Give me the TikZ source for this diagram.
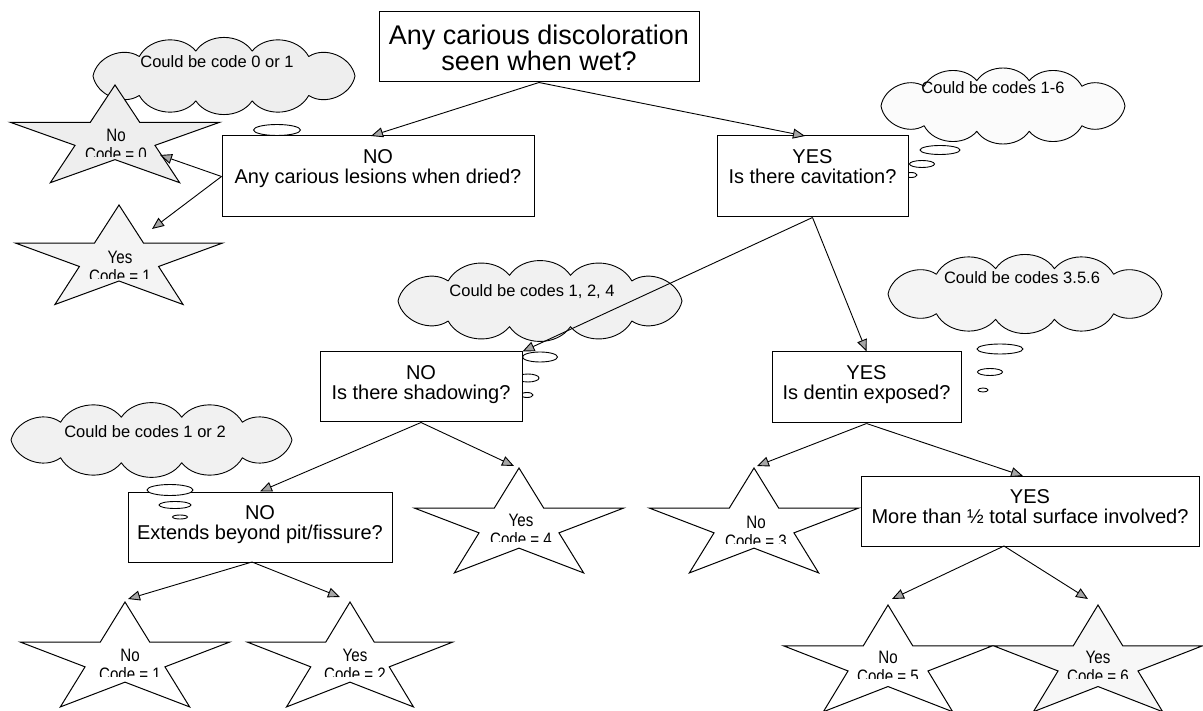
\documentclass[tikz,border=0pt]{standalone}
\usepackage{fontspec}
\setmainfont{Liberation Sans}
\newfontfamily\starfont[FakeStretch=0.84]{Liberation Sans}
\usetikzlibrary{shapes.geometric,arrows.meta}

\tikzset{
  qbox/.style={draw=black, line width=1pt, fill=white, rectangle, inner sep=0pt},
  qtext/.style={align=center, font=\fontsize{20}{20}\selectfont, inner sep=0pt, anchor=north},
  link/.style={draw=black, line width=0.9pt, -{Triangle[length=12pt,width=10pt,fill=gray!70]}},
  cloudline/.style={draw=black, line width=0.9pt, line join=round},
  ctext/.style={font=\fontsize{16.5}{18}\selectfont, inner sep=0pt},
  bubble/.style={ellipse, draw=black, line width=0.9pt, fill=white, inner sep=0pt},
  starline/.style={draw=black, line width=1pt, line join=miter},
  stext/.style={font=\starfont\fontsize{18}{18}\selectfont, inner sep=0pt, anchor=base},
}

% five-pointed star, stretched: centre (#1,#2), radii #3 (x) and #4 (y), fill #5
\newcommand\tstar[5]{%
  \draw[starline, fill=#5] plot[samples at={0,1,2,3,4,5,6,7,8,9}]
    ({#1+ifthenelse(mod(\x,2)==0,1,0.382)*#3*cos(90+36*\x)},
     {#2-ifthenelse(mod(\x,2)==0,1,0.382)*#4*sin(90+36*\x)}) -- cycle;}

% puffy cloud: centre (#1,#2), half width #3, half height #4, fill #5
\newcommand\thoughtcloud[5]{%
  \pgfmathsetmacro\cla{#3-3}%
  \pgfmathsetmacro\clb{0.74*#4}%
  \draw[cloudline, fill=#5] ({#1+\cla},{#2})
    \foreach \t in {49.7,77.6,102.4,130.3,180,229.7,257.6,282.4,310.3,360}
      { to[bend right=56] ({#1+\cla*cos(\t)},{#2-\clb*sin(\t)}) } -- cycle;}

% two-line star label; the second line is cut off at its lower part
\newcommand\slabel[5]{%
  \node[stext] (#1a) at (#2,#3) {#4};
  \begin{scope}
    \clip (#2-70,#3+6) rectangle (#2+70,#3+15);
    \node[stext] (#1b) at (#2,#3+19) {#5};
  \end{scope}}

\begin{document}
\begin{tikzpicture}[x=1pt,y=-1pt]
\useasboundingbox (0,0) rectangle (1203,711);
\fill[white] (0,0) rectangle (1203,711);

% ---- thought clouds
\thoughtcloud{224}{76}{134}{34.5}{gray!13}
\node[ctext] (c01t) at (217,62) {Could be code 0 or 1};
\thoughtcloud{1003}{106}{125}{35}{gray!3}
\node[ctext] (c16t) at (993,88) {Could be codes 1-6};
\thoughtcloud{540}{301}{145}{35.5}{gray!11}
\node[ctext] (c124t) at (532,292) {Could be codes 1, 2, 4};
\thoughtcloud{1025}{294}{140}{35}{gray!9}
\node[ctext] (c356t) at (1022,278) {Could be codes 3.5.6};
\thoughtcloud{151.5}{440}{143.5}{31.5}{gray!11}
\node[ctext] (c12t) at (145,432) {Could be codes 1 or 2};

% ---- thought bubbles lying behind their boxes
\node[bubble, minimum width=47, minimum height=11] (b1a) at (277,130) {};
\node[bubble, minimum width=40, minimum height=9] (b2a) at (940,150) {};
\node[bubble, minimum width=25, minimum height=7] (b2b) at (922,164) {};
\node[bubble, minimum width=12, minimum height=5] (b2c) at (911,175) {};
\node[bubble, minimum width=35, minimum height=10] (b3a) at (540,357) {};
\node[bubble, minimum width=22, minimum height=8] (b3b) at (528,378) {};
\node[bubble, minimum width=12, minimum height=5] (b3c) at (527,395) {};
\node[bubble, minimum width=46, minimum height=10] (b4a) at (1000,349) {};
\node[bubble, minimum width=25, minimum height=7] (b4b) at (990,372) {};
\node[bubble, minimum width=10, minimum height=4] (b4c) at (983,390) {};

% ---- question boxes
\node[qbox, minimum width=320, minimum height=70] (top) at (539,47) {};
\node[qtext, font=\fontsize{27}{24}\selectfont] (topt) at (539,25)
  {Any carious discoloration\\seen when wet?};
\node[qbox, minimum width=312, minimum height=81] (no1) at (378,176.5) {};
\node[qtext] (no1t) at (378,149) {NO\\Any carious lesions when dried?};
\node[qbox, minimum width=191, minimum height=81] (yes1) at (812.5,176.5) {};
\node[qtext] (yes1t) at (812.5,149) {YES\\Is there cavitation?};
\node[qbox, minimum width=202, minimum height=70] (no2) at (421,387) {};
\node[qtext] (no2t) at (421,365) {NO\\Is there shadowing?};
\node[qbox, minimum width=189, minimum height=71] (yes2) at (866.5,387.5) {};
\node[qtext] (yes2t) at (866.5,365) {YES\\Is dentin exposed?};
\node[qbox, minimum width=264, minimum height=70] (no3) at (260,527) {};
\node[qtext] (no3t) at (260,505) {NO\\Extends beyond pit/fissure?};
\node[qbox, minimum width=338, minimum height=70] (yes3) at (1030,511) {};
\node[qtext] (yes3t) at (1030,489) {YES\\More than \textonehalf{} total surface involved?};

% ---- thought bubbles lying over their box
\node[bubble, minimum width=46, minimum height=11] (b5a) at (170,490) {};
\node[bubble, minimum width=32, minimum height=7] (b5b) at (175,505) {};
\node[bubble, minimum width=15, minimum height=4] (b5c) at (180,517) {};

% ---- outcome stars
\tstar{115}{139}{110}{54}{gray!13}
\tstar{119}{260}{109}{55}{gray!9}
\tstar{519}{526}{110}{58}{white}
\tstar{754}{526}{110}{58}{white}
\tstar{125}{660}{110}{58}{white}
\tstar{350}{660}{108}{58}{white}
\tstar{888}{664}{110}{59}{white}
\tstar{1098}{664}{110}{59}{gray!6}

\slabel{s0}{116}{142}{No}{Code = 0}
\slabel{s1}{120}{264}{Yes}{Code = 1}
\slabel{s4}{521}{526}{Yes}{Code = 4}
\slabel{s3}{756}{528}{No}{Code = 3}
\slabel{s1b}{130}{661}{No}{Code = 1}
\slabel{s2}{355}{661}{Yes}{Code = 2}
\slabel{s5}{888}{663}{No}{Code = 5}
\slabel{s6}{1098}{663}{Yes}{Code = 6}

% ---- arrow tips
\coordinate (tno1) at (371,136);
\coordinate (tyes1) at (805,136);
\coordinate (ts0) at (160,155);
\coordinate (ts1) at (152,229);
\coordinate (ts4) at (514,466);
\coordinate (ts3) at (757,466);
\coordinate (tyes3) at (1023,476);
\coordinate (ts1b) at (128,599);
\coordinate (ts2) at (340,597);
\coordinate (ts5) at (892,599);
\coordinate (ts6) at (1088,599);
\coordinate (no3out) at (252,562);
\coordinate (yes3out) at (1004,546);

% ---- connectors
\draw[link] (top.south) -- (tno1);
\draw[link] (top.south) -- (tyes1);
\draw[link] (no1.west) -- (ts0);
\draw[link] (no1.west) -- (ts1);
\draw[link] (yes1.south) -- (no2.north east);
\draw[link] (yes1.south) -- (yes2.north);
\draw[link] (no2.south) -- (no3.north);
\draw[link] (no2.south) -- (ts4);
\draw[link] (yes2.south) -- (ts3);
\draw[link] (yes2.south) -- (tyes3);
\draw[link] (no3out) -- (ts1b);
\draw[link] (no3out) -- (ts2);
\draw[link] (yes3out) -- (ts5);
\draw[link] (yes3out) -- (ts6);
\end{tikzpicture}
\end{document}
